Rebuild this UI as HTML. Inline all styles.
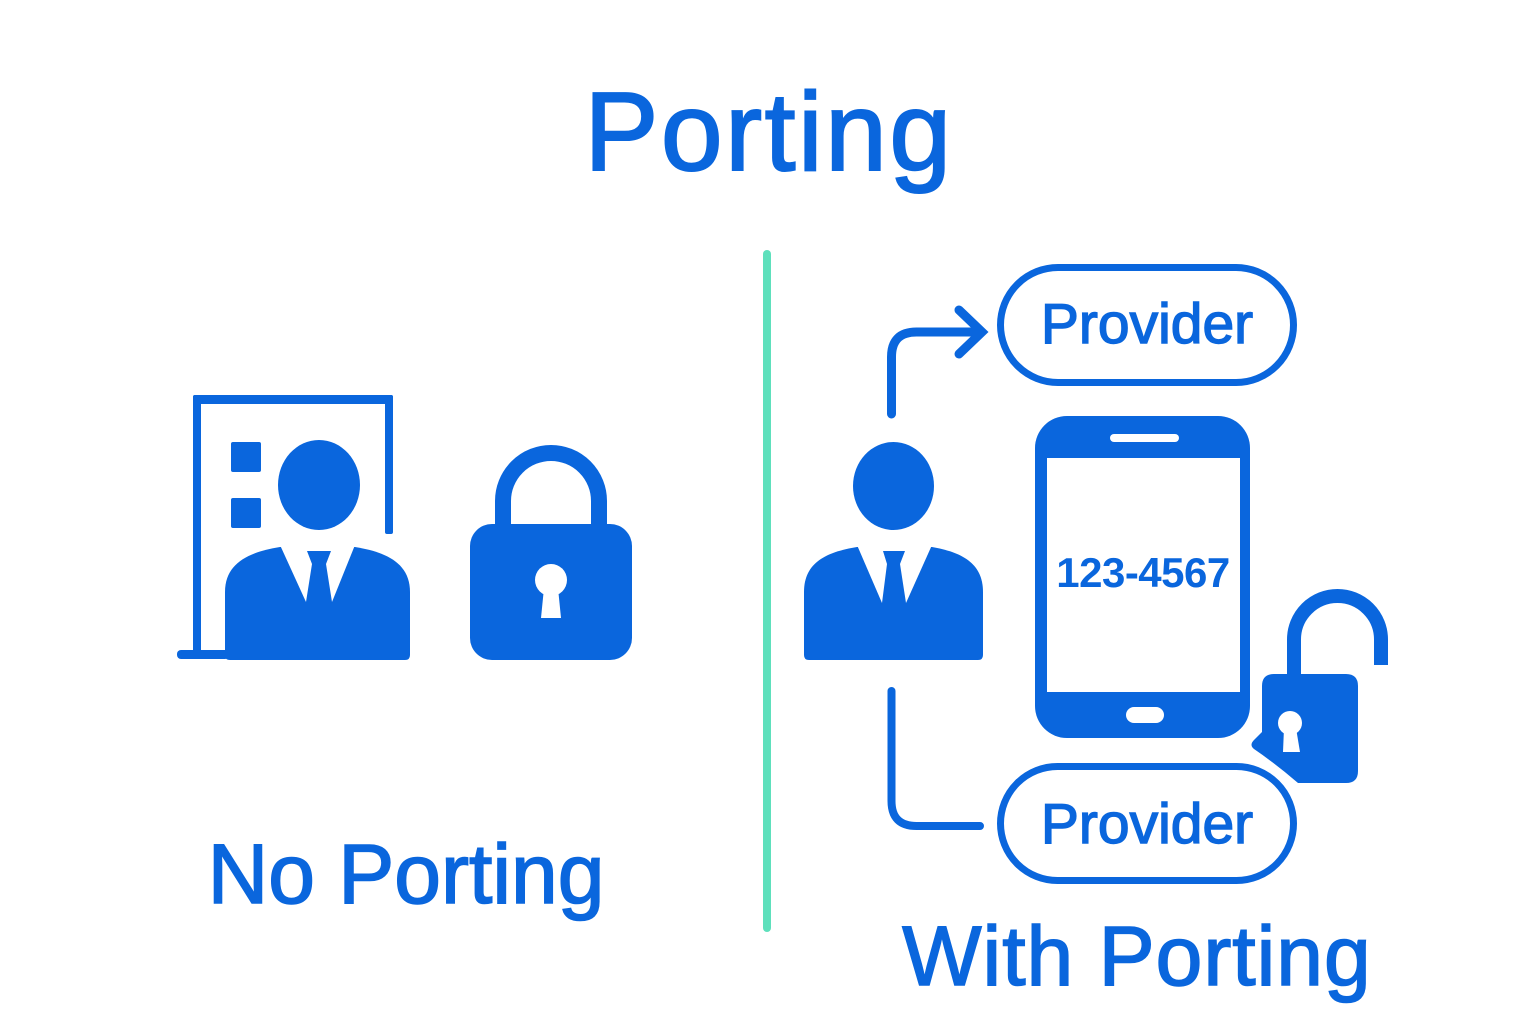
<!DOCTYPE html>
<html>
<head>
<meta charset="utf-8">
<style>
  html, body { margin: 0; padding: 0; background: #ffffff; }
  body { width: 1536px; height: 1024px; overflow: hidden; }
  svg { display: block; }
  text { font-family: "Liberation Sans", "DejaVu Sans", sans-serif; fill: #0a66dd; }
</style>
</head>
<body>
<svg width="1536" height="1024" viewBox="0 0 1536 1024" xmlns="http://www.w3.org/2000/svg">
  <rect x="0" y="0" width="1536" height="1024" fill="#ffffff"/>

  <!-- Title -->
  <text x="769" y="170" font-size="111" text-anchor="middle" letter-spacing="2.5" stroke="#0a66dd" stroke-width="2">Porting</text>

  <!-- Divider -->
  <line x1="767" y1="254" x2="767" y2="928" stroke="#5ee0bc" stroke-width="8" stroke-linecap="round"/>

  <!-- LEFT: frame with person -->
  <g fill="#0a66dd">
    <rect x="193" y="395" width="200" height="9" rx="2"/>
    <rect x="193" y="395" width="8" height="264" rx="2"/>
    <rect x="385" y="395" width="8" height="139" rx="2"/>
    <rect x="177" y="650" width="52" height="9" rx="4"/>
    <rect x="231" y="442" width="30" height="30" rx="2"/>
    <rect x="231" y="498" width="30" height="30" rx="2"/>
    <ellipse cx="319" cy="485" rx="41" ry="45"/>
    <path d="M225,655 L225,592 C225,563 249,552 280,547 L355,547 C386,552 410,563 410,592 L410,655 Q410,660 405,660 L230,660 Q225,660 225,655 Z"/>
  </g>
  <polygon points="280,545 355,545 332,602 306,602" fill="#ffffff"/>
  <polygon points="307,551 331,551 326,564 332,602 306,602 312,564" fill="#0a66dd"/>

  <!-- LEFT: lock -->
  <path d="M503,530 L503,501 A48,48 0 0 1 599,501 L599,530" fill="none" stroke="#0a66dd" stroke-width="16"/>
  <rect x="470" y="524" width="162" height="136" rx="22" fill="#0a66dd"/>
  <circle cx="551" cy="580" r="16" fill="#ffffff"/>
  <polygon points="544,588 558,588 561,618 541,618" fill="#ffffff"/>

  <!-- Left label -->
  <text x="406" y="903" font-size="84" text-anchor="middle" stroke="#0a66dd" stroke-width="1.6">No Porting</text>

  <!-- RIGHT: person -->
  <g fill="#0a66dd">
    <ellipse cx="893.5" cy="486" rx="40.5" ry="44"/>
    <path d="M804,655 L804,592 C804,562 827,552 857,547 L932,547 C960,552 983,562 983,592 L983,655 Q983,660 978,660 L809,660 Q804,660 804,655 Z"/>
  </g>
  <polygon points="857,545 932,545 906,603 882,603" fill="#ffffff"/>
  <polygon points="883,551 905,551 900,564 906,603 882,603 887,564" fill="#0a66dd"/>

  <!-- Connectors -->
  <path d="M891.5,414 L891.5,357 Q891.5,332 916.5,332 L981,332" fill="none" stroke="#0a66dd" stroke-width="9" stroke-linecap="round"/>
  <polyline points="959,310 982,332 959,354" fill="none" stroke="#0a66dd" stroke-width="9" stroke-linecap="round" stroke-linejoin="miter"/>
  <path d="M891.5,691 L891.5,801 Q891.5,826 916.5,826 L980,826" fill="none" stroke="#0a66dd" stroke-width="8" stroke-linecap="round"/>

  <!-- Provider pills -->
  <rect x="1000.5" y="267.5" width="293" height="115" rx="57.5" fill="none" stroke="#0a66dd" stroke-width="7"/>
  <text x="1147" y="343" font-size="57" text-anchor="middle" stroke="#0a66dd" stroke-width="1.4">Provider</text>
  <rect x="1000.5" y="766.5" width="293" height="114" rx="57" fill="none" stroke="#0a66dd" stroke-width="7"/>
  <text x="1147" y="843" font-size="57" text-anchor="middle" stroke="#0a66dd" stroke-width="1.4">Provider</text>

  <!-- Phone -->
  <rect x="1035" y="416" width="215" height="322" rx="32" fill="#0a66dd"/>
  <rect x="1047" y="458" width="193" height="234" fill="#ffffff"/>
  <rect x="1110" y="434" width="69" height="8" rx="4" fill="#ffffff"/>
  <rect x="1126" y="707" width="38" height="16" rx="8" fill="#ffffff"/>
  <text x="1143" y="587" font-size="42" font-weight="bold" text-anchor="middle" letter-spacing="-0.5">123-4567</text>

  <!-- Unlocked lock -->
  <path d="M1294,682 L1294,639.5 A43.5,43.5 0 0 1 1381,639.5 L1381,665" fill="none" stroke="#0a66dd" stroke-width="14"/>
  <path d="M1274,674 L1346,674 Q1358,674 1358,686 L1358,771 Q1358,783 1346,783 L1298,783 Q1276,764 1254,749 Q1249,745 1254,740 L1262,732 L1262,686 Q1262,674 1274,674 Z" fill="#0a66dd"/>
  <circle cx="1290" cy="723" r="12" fill="#ffffff"/>
  <polygon points="1284,728 1296,728 1300,752 1283,752" fill="#ffffff"/>

  <!-- Right label -->
  <text x="1137" y="985" font-size="84" text-anchor="middle" letter-spacing="1" stroke="#0a66dd" stroke-width="1.6">With Porting</text>
</svg>
</body>
</html>
